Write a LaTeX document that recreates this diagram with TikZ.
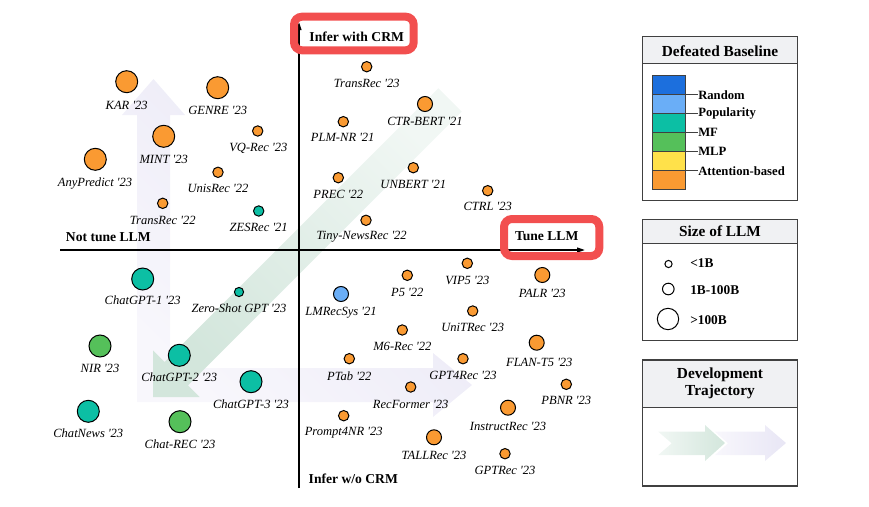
\documentclass[tikz,border=0pt]{standalone}
\usepackage{fontspec}
\setmainfont{Liberation Serif}[Ligatures=TeXOff]
\usetikzlibrary{arrows.meta}
\definecolor{cor}{HTML}{FA9A32}
\definecolor{cteal}{HTML}{0CBFA4}
\definecolor{cgreen}{HTML}{55C05A}
\definecolor{clblue}{HTML}{6AAEF7}
\definecolor{cdblue}{HTML}{1C6FDD}
\definecolor{cyel}{HTML}{FFE14A}
\definecolor{cred}{HTML}{F24F4F}
\definecolor{hdr}{HTML}{F0F1F3}
\definecolor{lgline}{HTML}{404040}
\definecolor{pdark}{HTML}{E8E6F5}
\definecolor{plight}{HTML}{F8F7FC}
\definecolor{gdark}{HTML}{D3E6DC}
\definecolor{glight}{HTML}{F1F7F4}
\newcommand\pp[8]{\node[#2, fill=#3] (#1) at (#4,#5) {}; \node[lab] (#1l) at (#7,#8) {#6};}
\begin{document}
\begin{tikzpicture}[x=0.75pt,y=-0.75pt,
  dot/.style={circle, draw=black, line width=0.75pt, inner sep=0pt},
  ptiny/.style={dot, minimum size=6.9pt},
  psmall/.style={dot, minimum size=7.8pt},
  pmed/.style={dot, minimum size=11.25pt},
  plarge/.style={dot, minimum size=16.5pt},
  lab/.style={font=\fontsize{9.4}{11}\selectfont\itshape, inner sep=0pt},
  axl/.style={font=\fontsize{10.2}{12}\selectfont\bfseries, inner sep=0pt},
  axis/.style={line width=1.1pt, -{Triangle[length=6pt,width=3.6pt]}},
  redbox/.style={draw=cred, line width=6pt, rounded corners=6pt},
  lgbox/.style={draw=lgline, line width=0.9pt},
  lgtitle/.style={font=\fontsize{11.5}{13.5}\selectfont\bfseries, inner sep=0pt, align=center},
  lglab/.style={font=\fontsize{9.5}{11}\selectfont\bfseries, inner sep=0pt, anchor=west},
  sizelab/.style={font=\fontsize{10}{12}\selectfont\bfseries, inner sep=0pt, anchor=west},
  seg/.style={draw=lgline, line width=0.6pt}
]
\useasboundingbox (0,0) rectangle (869,507);

% background trajectory arrows
\shade[top color=pdark, bottom color=plight, shading angle=-45]
  (137,402) -- (433,402) -- (433,417) -- (472,385) -- (433,353) -- (433,368)
  -- (170,368) -- (170,115) -- (185,115) -- (153.5,79) -- (122,115) -- (137,115) -- cycle;
\shade[top color=glight, bottom color=gdark, shading angle=-45]
  (153,397) -- (199.67,397) -- (188,385.3) -- (461.67,111.67) -- (438.33,88.33)
  -- (164.67,362) -- (153,350.33) -- cycle;

% axes
\coordinate (xs) at (60,250);
\coordinate (xe) at (585,250);
\coordinate (ys) at (299,488);
\coordinate (ye) at (299,22);
\draw[axis] (xs) -- (xe);
\draw[axis] (ys) -- (ye);

% red highlight frames
\draw[redbox] (294,16.7) rectangle (413.7,50.3);
\draw[redbox] (504,219) rectangle (599.3,256);

% axis labels
\node[axl] (ntl) at (108.3,236.7) {Not tune LLM};
\node[axl] (iwc) at (356.7,36.7) {Infer with CRM};
\node[axl] (tl) at (546.7,236.5) {Tune LLM};
\node[axl] (iwo) at (353.3,478.3) {Infer w/o CRM};

% top-left
\pp{kar}{plarge}{cor}{126.7}{81.7}{KAR '23}{126.7}{105}
\pp{genre}{plarge}{cor}{217.7}{87.7}{GENRE '23}{217.7}{110.7}
\pp{mint}{plarge}{cor}{163.7}{136.3}{MINT '23}{163.7}{159}
\pp{vqrec}{psmall}{cor}{257.7}{131}{VQ-Rec '23}{258.3}{148.3}
\pp{anyp}{plarge}{cor}{95.3}{159.3}{AnyPredict '23}{95}{183.3}
\pp{unis}{psmall}{cor}{218}{172.3}{UnisRec '22}{218}{188.3}
\pp{trans22}{psmall}{cor}{162.7}{203.3}{TransRec '22}{162.7}{220}
\pp{zes}{psmall}{cteal}{258.7}{211}{ZESRec '21}{258.7}{227.7}
% top-right
\pp{trans23}{psmall}{cor}{366.7}{66.7}{TransRec '23}{366.7}{83.3}
\pp{ctrbert}{pmed}{cor}{425}{104}{CTR-BERT '21}{425}{121.7}
\pp{plmnr}{psmall}{cor}{343.3}{121.7}{PLM-NR '21}{342.7}{137.7}
\pp{unbert}{psmall}{cor}{413.3}{167.7}{UNBERT '21}{413.3}{184.3}
\pp{prec}{psmall}{cor}{338.3}{177.7}{PREC '22}{338.3}{194}
\pp{ctrl}{psmall}{cor}{487.7}{190.7}{CTRL '23}{487.7}{206.7}
\pp{tiny}{psmall}{cor}{366}{220.3}{Tiny-NewsRec '22}{361.7}{237}
% bottom-left
\pp{cg1}{plarge}{cteal}{142.7}{279}{ChatGPT-1 '23}{142.7}{300.7}
\pp{zsg}{ptiny}{cteal}{239}{292}{Zero-Shot GPT '23}{239}{308.7}
\pp{nir}{plarge}{cgreen}{100}{346}{NIR '23}{100}{368.3}
\pp{cg2}{plarge}{cteal}{179.3}{355.3}{ChatGPT-2 '23}{179.3}{377.3}
\pp{cg3}{plarge}{cteal}{251}{381.7}{ChatGPT-3 '23}{251}{404}
\pp{cnews}{plarge}{cteal}{88.3}{411.3}{ChatNews '23}{88.3}{433.3}
\pp{crec}{plarge}{cgreen}{180}{421.7}{Chat-REC '23}{180}{444}
% bottom-right
\pp{vip5}{psmall}{cor}{467.3}{263.3}{VIP5 '23}{467.3}{280}
\pp{p5}{psmall}{cor}{407.3}{275.3}{P5 '22}{407.3}{292.3}
\pp{palr}{pmed}{cor}{542.3}{275}{PALR '23}{542.3}{293.3}
\pp{lmrec}{pmed}{clblue}{341}{294}{LMRecSys '21}{341}{313}
\pp{unit}{psmall}{cor}{472.7}{311}{UniTRec '23}{472.7}{327.7}
\pp{m6}{psmall}{cor}{402.3}{330}{M6-Rec '22}{402.3}{346.7}
\pp{flan}{pmed}{cor}{536.7}{342.7}{FLAN-T5 '23}{539.3}{362.7}
\pp{ptab}{psmall}{cor}{349.3}{358.7}{PTab '22}{349.3}{376}
\pp{gpt4}{psmall}{cor}{463}{358.7}{GPT4Rec '23}{463}{375.3}
\pp{pbnr}{psmall}{cor}{566.3}{384.3}{PBNR '23}{566.3}{400.7}
\pp{recf}{psmall}{cor}{410.7}{387}{RecFormer '23}{410.7}{404}
\pp{instr}{pmed}{cor}{508}{407.7}{InstructRec '23}{508}{426}
\pp{p4nr}{psmall}{cor}{343.7}{415.7}{Prompt4NR '23}{343.7}{432.3}
\pp{tall}{pmed}{cor}{434}{437.3}{TALLRec '23}{434}{455.7}
\pp{gptrec}{psmall}{cor}{505}{453.7}{GPTRec '23}{505}{470.3}

% legend 1
\fill[hdr] (642.7,36.7) rectangle (797.3,63.3);
\draw[lgbox] (642.7,36.7) rectangle (797.3,200.7);
\draw[lgbox] (642.7,63.3) -- (797.3,63.3);
\node[lgtitle] (t1) at (720,51) {Defeated Baseline};
\filldraw[seg, fill=cdblue] (652,75.7) rectangle (685,94.7);
\filldraw[seg, fill=clblue] (652,94.7) rectangle (685,113.7);
\filldraw[seg, fill=cteal] (652,113.7) rectangle (685,132.7);
\filldraw[seg, fill=cgreen] (652,132.7) rectangle (685,151.7);
\filldraw[seg, fill=cyel] (652,151.7) rectangle (685,170.7);
\filldraw[seg, fill=cor] (652,170.7) rectangle (685,189.7);
\node[lglab] (lr) at (698,94.7) {Random};
\node[lglab] (lp) at (698,113.7) {Popularity};
\node[lglab] (lmf) at (698,132.7) {MF};
\node[lglab] (lmlp) at (698,151.7) {MLP};
\node[lglab] (lat) at (698,170.7) {Attention-based};
\draw[seg] (685,94.7) -- (lr.west);
\draw[seg] (685,113.7) -- (lp.west);
\draw[seg] (685,132.7) -- (lmf.west);
\draw[seg] (685,151.7) -- (lmlp.west);
\draw[seg] (685,170.7) -- (lat.west);

% legend 2
\fill[hdr] (642.7,219.3) rectangle (797.3,243.3);
\draw[lgbox] (642.7,219.3) rectangle (797.3,340.7);
\draw[lgbox] (642.7,243.3) -- (797.3,243.3);
\node[lgtitle] (t2) at (720,231.5) {Size of LLM};
\node[dot, fill=white, minimum size=5.4pt] (s1) at (668.5,264) {};
\node[dot, fill=white, minimum size=8.7pt] (s2) at (668.3,289) {};
\node[dot, fill=white, minimum size=16pt] (s3) at (668,319) {};
\node[sizelab] (s1l) at (690,263.5) {<1B};
\node[sizelab] (s2l) at (690,290.5) {1B-100B};
\node[sizelab] (s3l) at (690,320) {>100B};

% legend 3
\fill[hdr] (642.7,360) rectangle (797.3,407.3);
\draw[lgbox] (642.7,360) rectangle (797.3,486);
\draw[lgbox] (642.7,407.3) -- (797.3,407.3);
\node[lgtitle] (t3) at (720,383.5) {Development\\[-1pt]Trajectory};
\shade[left color=plight, right color=pdark]
  (715,431.7) -- (765,431.7) -- (765,425) -- (786,443) -- (765,461) -- (765,455)
  -- (715,455) -- (728,443.3) -- cycle;
\shade[left color=glight, right color=gdark]
  (658.3,431.7) -- (705,431.7) -- (705,425) -- (725,443) -- (705,461) -- (705,455)
  -- (658.3,455) -- (671.7,443.3) -- cycle;
\end{tikzpicture}
\end{document}
